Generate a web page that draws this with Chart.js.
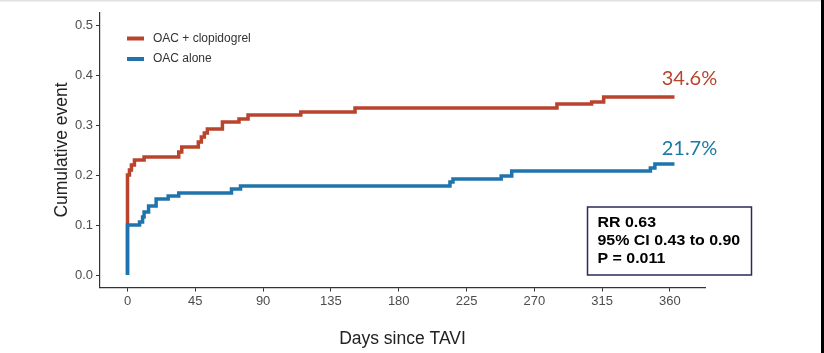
<!DOCTYPE html>
<html>
<head>
<meta charset="utf-8">
<script src="https://cdn.jsdelivr.net/npm/chart.js@4/dist/chart.umd.min.js"></script>
<style>
  html, body { margin: 0; padding: 0; background: #fff; }
  #wrap { width: 824px; height: 353px; position: relative; }
</style>
</head>
<body>
<div id="wrap"><canvas id="kmChart"></canvas></div>
<script>
// cumulative event curves (days since TAVI -> cumulative event)
const redLabel = 'OAC + clopidogrel';
const redDays = [0, 0, 0, 0, 1.3, 2.6, 4.6, 11, 34, 36, 47, 49, 51, 53, 63, 74, 80, 115, 151, 285, 308, 316, 363];
const redRisk = [0, 0.10, 0.14, 0.20, 0.21, 0.22, 0.23, 0.236, 0.246, 0.256, 0.266, 0.276, 0.284, 0.292, 0.306, 0.312, 0.32, 0.326, 0.334, 0.342, 0.346, 0.356, 0.356];

const blueLabel = 'OAC alone';
const blueDays = [0, 0, 0, 8, 10, 11, 14, 19, 27, 34, 69, 75, 214, 216, 248, 255, 347, 350, 363];
const blueRisk = [0, 0.064, 0.10, 0.106, 0.116, 0.126, 0.138, 0.152, 0.158, 0.164, 0.172, 0.178, 0.186, 0.192, 0.198, 0.208, 0.214, 0.222, 0.222];

const xTicks = [0, 45, 90, 135, 180, 225, 270, 315, 360];
const yTicks = [0, 0.1, 0.2, 0.3, 0.4, 0.5];

const endLabels = ['34.6%', '21.7%'];
const statsLines = ['RR 0.63', '95% CI 0.43 to 0.90', 'P = 0.011'];

const RED = '#b9432d';
const BLUE = '#1f74ad';
const AXIS = '#333333';

function toPoints(xs, ys) {
    return xs.map((x, i) => ({ x: x, y: ys[i] }));
}

// legend, end labels and the stats box
const extras = {
    id: 'extras',
    afterDraw(chart) {
        const ctx = chart.ctx;
        const xs = chart.scales.x, ys = chart.scales.y;
        const area = chart.chartArea;
        ctx.save();

        // frame bits of the original image: faint top line, dark right edge
        ctx.fillStyle = '#e2e2e2';
        ctx.fillRect(0, 0, chart.width, 1.5);
        ctx.fillStyle = '#000';
        ctx.fillRect(chart.width - 3, 0, 3, chart.height);

        // legend (top left, inside the plot)
        const items = [[redLabel, RED], [blueLabel, BLUE]];
        items.forEach((it, i) => {
            const y = area.top + 26 + i * 20.5;
            ctx.strokeStyle = it[1];
            ctx.lineWidth = 4;
            ctx.beginPath();
            ctx.moveTo(area.left + 27, y);
            ctx.lineTo(area.left + 44, y);
            ctx.stroke();
            ctx.fillStyle = '#333';
            ctx.font = '12px "Liberation Sans", Arial, sans-serif';
            ctx.textBaseline = 'middle';
            ctx.textAlign = 'left';
            ctx.fillText(it[0], area.left + 53, y);
        });

        // percentages at the end of each curve
        ctx.font = '20px Lato, "Open Sans", sans-serif';
        ctx.textBaseline = 'alphabetic';
        ctx.fillStyle = RED;
        ctx.fillText(endLabels[0], xs.getPixelForValue(354.5), ys.getPixelForValue(0.38));
        ctx.fillStyle = '#1b7aa3';
        ctx.fillText(endLabels[1], xs.getPixelForValue(354.5), ys.getPixelForValue(0.241));

        // stats box
        const bx = 587.5, by = 207, bw = 164, bh = 68;
        ctx.fillStyle = '#fff';
        ctx.fillRect(bx, by, bw, bh);
        ctx.strokeStyle = '#2a2a5c';
        ctx.lineWidth = 1.5;
        ctx.strokeRect(bx, by, bw, bh);
        ctx.fillStyle = '#000';
        ctx.font = 'bold 14.5px "Liberation Sans", Arial, sans-serif';
        ctx.textBaseline = 'alphabetic';
        statsLines.forEach((s, i) => {
            ctx.save();
            ctx.translate(bx + 10, by + 20 + i * 18);
            ctx.scale(1.1, 1);
            ctx.fillText(s, 0, 0);
            ctx.restore();
        });

        ctx.restore();
    }
};

const ctx = document.getElementById('kmChart').getContext('2d');
new Chart(ctx, {
    type: 'line',
    data: {
        datasets: [{
            label: redLabel,
            data: toPoints(redDays, redRisk),
            borderColor: RED,
            borderWidth: 3.5,
            stepped: true,
            pointRadius: 0,
            fill: false,
            order: 2
        }, {
            label: blueLabel,
            data: toPoints(blueDays, blueRisk),
            borderColor: BLUE,
            borderWidth: 3.5,
            stepped: true,
            pointRadius: 0,
            fill: false,
            order: 1
        }]
    },
    options: {
        responsive: true,
        maintainAspectRatio: false,
        animation: false,
        layout: { padding: { top: 12.5, right: 119, left: 0, bottom: 0 } },
        plugins: {
            legend: { display: false },
            tooltip: { enabled: false }
        },
        scales: {
            x: {
                type: 'linear',
                min: -18.25,
                max: 383.25,
                afterBuildTicks: axis => { axis.ticks = xTicks.map(v => ({ value: v })); },
                afterFit: axis => { axis.height = 65.5; },
                grid: { drawOnChartArea: false, drawTicks: true, tickLength: 4, color: AXIS },
                border: { display: true, color: AXIS, width: 1.2 },
                ticks: {
                    color: '#4d4d4d',
                    padding: 2,
                    maxRotation: 0,
                    font: { family: '"Liberation Sans", Arial, sans-serif', size: 13 }
                },
                title: {
                    display: true,
                    text: 'Days since TAVI',
                    color: '#222',
                    padding: { top: 0, bottom: 3 },
                    font: { family: '"Liberation Sans", Arial, sans-serif', size: 17.5 }
                }
            },
            y: {
                min: -0.025,
                max: 0.525,
                afterBuildTicks: axis => { axis.ticks = yTicks.map(v => ({ value: v })); },
                afterFit: axis => { axis.width = 100; },
                grid: { drawOnChartArea: false, drawTicks: true, tickLength: 4, color: AXIS },
                border: { display: true, color: AXIS, width: 1.2 },
                ticks: {
                    color: '#4d4d4d',
                    padding: 3,
                    callback: v => v.toFixed(1),
                    font: { family: '"Liberation Sans", Arial, sans-serif', size: 13 }
                },
                title: {
                    display: true,
                    text: 'Cumulative event',
                    color: '#222',
                    padding: { top: 52, bottom: 0 },
                    font: { family: '"Liberation Sans", Arial, sans-serif', size: 17.5 }
                }
            }
        }
    },
    plugins: [extras]
});
</script>
</body>
</html>
